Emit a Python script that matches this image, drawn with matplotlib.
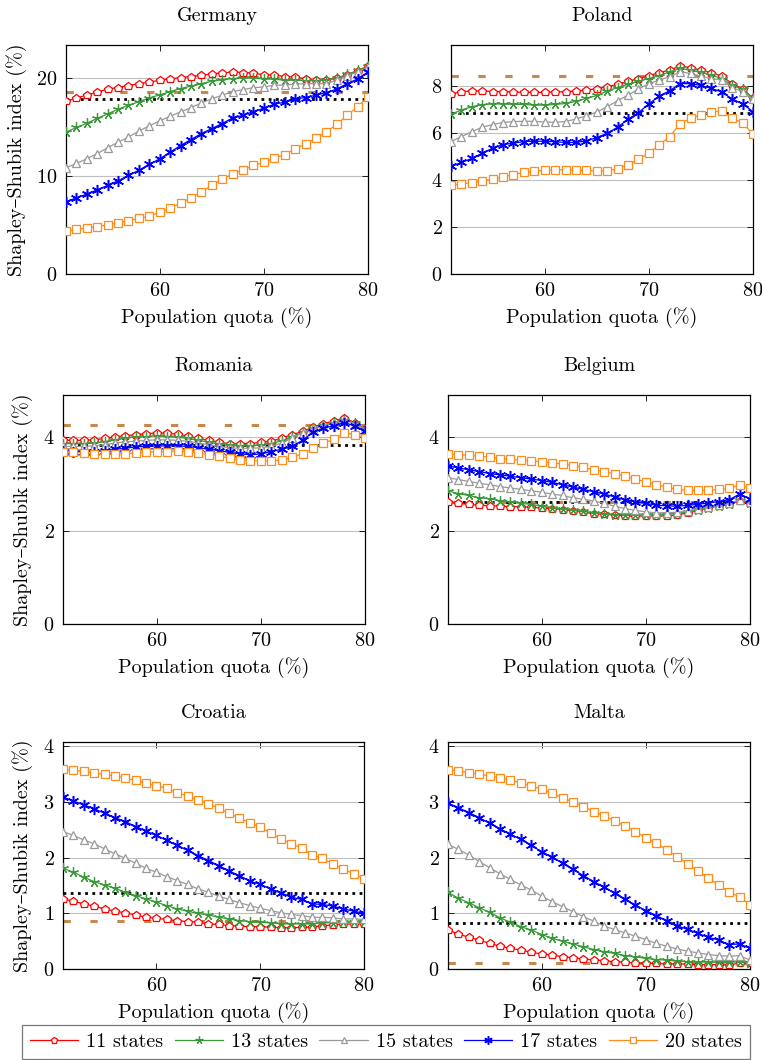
import numpy as np
import matplotlib
matplotlib.use("Agg")
import matplotlib.pyplot as plt

plt.rcParams['font.family'] = ['cmr10', 'DejaVu Serif']
plt.rcParams['mathtext.fontset'] = 'cm'
plt.rcParams['axes.formatter.use_mathtext'] = True

quota = np.arange(51, 81)
labels = ["11 states", "13 states", "15 states", "17 states", "20 states"]

# Germany
de_11 = [17.65, 18.0, 18.27, 18.6, 18.9, 19.05, 19.25, 19.45, 19.6, 19.8, 19.93, 20.07, 20.17, 20.3, 20.44,
         20.54, 20.65, 20.58, 20.54, 20.34, 20.34, 20.17, 20.1, 19.97, 19.83, 19.83, 20.0, 20.34, 20.7, 21.26]
de_13 = [14.5, 14.97, 15.4, 15.9, 16.36, 16.84, 17.24, 17.6, 18.0, 18.3, 18.64, 18.95, 19.2, 19.45, 19.7,
         19.86, 19.97, 20.03, 20.03, 19.93, 19.9, 19.8, 19.8, 19.76, 19.76, 19.8, 20.0, 20.4, 20.8, 21.26]
de_15 = [10.85, 11.3, 11.77, 12.3, 12.9, 13.47, 14.0, 14.6, 15.14, 15.65, 16.12, 16.56, 17.0, 17.48, 17.9,
         18.27, 18.64, 18.84, 19.05, 19.1, 19.3, 19.3, 19.4, 19.45, 19.45, 19.45, 19.8, 20.27, 20.65, 21.15]
de_17 = [7.38, 7.79, 8.16, 8.6, 9.05, 9.52, 10.07, 10.6, 11.2, 11.77, 12.45, 13.13, 13.74, 14.35, 14.86,
         15.37, 15.95, 16.22, 16.6, 16.94, 17.35, 17.55, 17.9, 18.03, 18.27, 18.54, 18.9, 19.45, 19.93, 20.65]
de_20 = [4.42, 4.56, 4.7, 4.83, 5.03, 5.24, 5.44, 5.68, 5.92, 6.3, 6.73, 7.24, 7.79, 8.4, 9.05,
         9.66, 10.24, 10.6, 11.12, 11.4, 11.84, 12.2, 12.8, 13.27, 13.88, 14.5, 15.3, 16.22, 17.07, 18.1]

# Poland
pl_11 = [7.66, 7.76, 7.79, 7.79, 7.77, 7.76, 7.75, 7.73, 7.73, 7.73, 7.75, 7.76, 7.79, 7.83, 7.89,
         7.97, 8.08, 8.2, 8.32, 8.45, 8.57, 8.68, 8.86, 8.78, 8.68, 8.57, 8.42, 8.11, 7.89, 7.48]
pl_13 = [6.81, 6.98, 7.12, 7.21, 7.24, 7.24, 7.22, 7.22, 7.19, 7.19, 7.22, 7.26, 7.35, 7.48, 7.6,
         7.79, 7.94, 8.08, 8.21, 8.32, 8.45, 8.61, 8.75, 8.68, 8.58, 8.47, 8.32, 8.04, 7.86, 7.48]
pl_15 = [5.64, 5.85, 6.06, 6.25, 6.36, 6.45, 6.49, 6.5, 6.5, 6.47, 6.46, 6.49, 6.6, 6.73, 6.9,
         7.12, 7.38, 7.62, 7.87, 8.11, 8.25, 8.4, 8.61, 8.54, 8.42, 8.32, 8.25, 7.94, 7.76, 7.43]
pl_17 = [4.58, 4.75, 4.92, 5.14, 5.36, 5.51, 5.57, 5.64, 5.65, 5.65, 5.63, 5.6, 5.6, 5.67, 5.81,
         5.99, 6.25, 6.59, 6.87, 7.24, 7.58, 7.8, 8.11, 8.1, 8.03, 7.9, 7.75, 7.45, 7.25, 6.91]
pl_20 = [3.79, 3.83, 3.89, 3.96, 4.04, 4.13, 4.23, 4.33, 4.38, 4.42, 4.44, 4.44, 4.42, 4.41, 4.38,
         4.4, 4.47, 4.66, 4.89, 5.14, 5.5, 5.85, 6.39, 6.63, 6.77, 6.9, 6.93, 6.64, 6.42, 5.96]

# Romania
ro_11 = [3.93, 3.93, 3.93, 3.94, 3.97, 4.0, 4.03, 4.05, 4.07, 4.09, 4.08, 4.06, 4.02, 3.97, 3.93,
         3.89, 3.86, 3.86, 3.86, 3.89, 3.91, 3.98, 4.05, 4.12, 4.21, 4.29, 4.34, 4.41, 4.31, 4.17]
ro_13 = [3.86, 3.86, 3.86, 3.87, 3.9, 3.94, 3.98, 4.0, 4.01, 4.03, 4.01, 4.0, 3.97, 3.93, 3.89,
         3.85, 3.82, 3.81, 3.81, 3.83, 3.86, 3.92, 4.0, 4.1, 4.19, 4.26, 4.31, 4.37, 4.3, 4.16]
ro_15 = [3.8, 3.8, 3.8, 3.81, 3.84, 3.87, 3.9, 3.91, 3.93, 3.94, 3.94, 3.93, 3.91, 3.87, 3.84,
         3.8, 3.77, 3.76, 3.76, 3.77, 3.8, 3.87, 3.98, 4.09, 4.19, 4.26, 4.31, 4.36, 4.29, 4.16]
ro_17 = [3.71, 3.69, 3.69, 3.69, 3.71, 3.74, 3.76, 3.79, 3.8, 3.81, 3.81, 3.81, 3.8, 3.77, 3.74,
         3.71, 3.67, 3.64, 3.62, 3.64, 3.69, 3.74, 3.8, 3.93, 4.1, 4.19, 4.24, 4.31, 4.24, 4.12]
ro_20 = [3.69, 3.67, 3.66, 3.64, 3.63, 3.63, 3.64, 3.66, 3.68, 3.69, 3.69, 3.7, 3.69, 3.66, 3.62,
         3.59, 3.55, 3.51, 3.49, 3.49, 3.49, 3.51, 3.57, 3.64, 3.76, 3.87, 3.95, 4.09, 4.05, 3.98]

# Belgium
be_11 = [2.61, 2.58, 2.56, 2.54, 2.53, 2.52, 2.51, 2.51, 2.5, 2.48, 2.47, 2.45, 2.42, 2.39, 2.36,
         2.35, 2.33, 2.31, 2.31, 2.31, 2.31, 2.31, 2.33, 2.38, 2.43, 2.48, 2.53, 2.56, 2.63, 2.59]
be_13 = [2.85, 2.79, 2.75, 2.7, 2.68, 2.64, 2.61, 2.58, 2.56, 2.52, 2.49, 2.46, 2.43, 2.41, 2.38,
         2.36, 2.34, 2.34, 2.33, 2.33, 2.33, 2.35, 2.36, 2.4, 2.45, 2.49, 2.53, 2.56, 2.65, 2.59]
be_15 = [3.13, 3.09, 3.05, 3.01, 2.98, 2.94, 2.91, 2.88, 2.85, 2.82, 2.78, 2.75, 2.7, 2.67, 2.63,
         2.58, 2.52, 2.47, 2.43, 2.4, 2.38, 2.38, 2.39, 2.42, 2.47, 2.51, 2.54, 2.58, 2.66, 2.61]
be_17 = [3.38, 3.34, 3.3, 3.26, 3.22, 3.19, 3.16, 3.13, 3.1, 3.07, 3.03, 2.98, 2.93, 2.88, 2.83,
         2.78, 2.72, 2.66, 2.62, 2.58, 2.54, 2.53, 2.52, 2.54, 2.56, 2.59, 2.62, 2.66, 2.78, 2.68]
be_20 = [3.64, 3.62, 3.61, 3.59, 3.57, 3.54, 3.52, 3.51, 3.49, 3.47, 3.45, 3.42, 3.39, 3.35, 3.3,
         3.26, 3.21, 3.16, 3.1, 3.04, 2.98, 2.93, 2.88, 2.86, 2.86, 2.86, 2.88, 2.9, 2.98, 2.9]

# Croatia
hr_11 = [1.26, 1.22, 1.17, 1.13, 1.08, 1.04, 1.01, 0.97, 0.93, 0.91, 0.89, 0.87, 0.85, 0.84, 0.81,
         0.8, 0.78, 0.77, 0.76, 0.76, 0.75, 0.74, 0.74, 0.75, 0.75, 0.78, 0.79, 0.81, 0.81, 0.81]
hr_13 = [1.81, 1.74, 1.65, 1.57, 1.51, 1.45, 1.38, 1.32, 1.26, 1.2, 1.14, 1.08, 1.04, 1.0, 0.97,
         0.93, 0.9, 0.87, 0.85, 0.84, 0.83, 0.81, 0.81, 0.81, 0.81, 0.83, 0.83, 0.84, 0.84, 0.84]
hr_15 = [2.47, 2.4, 2.32, 2.25, 2.16, 2.07, 1.99, 1.9, 1.81, 1.74, 1.66, 1.59, 1.52, 1.44, 1.38,
         1.31, 1.25, 1.19, 1.14, 1.09, 1.05, 1.01, 0.98, 0.96, 0.93, 0.93, 0.92, 0.9, 0.9, 0.89]
hr_17 = [3.09, 3.02, 2.95, 2.88, 2.8, 2.72, 2.65, 2.56, 2.48, 2.4, 2.31, 2.22, 2.13, 2.04, 1.95,
         1.86, 1.76, 1.68, 1.58, 1.52, 1.44, 1.37, 1.29, 1.25, 1.17, 1.16, 1.13, 1.08, 1.04, 1.0]
hr_20 = [3.59, 3.57, 3.55, 3.52, 3.5, 3.47, 3.43, 3.39, 3.34, 3.29, 3.25, 3.17, 3.11, 3.04, 2.97,
         2.89, 2.8, 2.71, 2.63, 2.55, 2.44, 2.34, 2.25, 2.17, 2.05, 1.99, 1.89, 1.8, 1.71, 1.62]

# Malta
mt_11 = [0.7, 0.63, 0.57, 0.52, 0.46, 0.41, 0.37, 0.34, 0.3, 0.27, 0.25, 0.22, 0.2, 0.18, 0.16,
         0.15, 0.13, 0.12, 0.11, 0.1, 0.1, 0.09, 0.09, 0.09, 0.08, 0.08, 0.08, 0.07, 0.11, 0.1]
mt_13 = [1.38, 1.27, 1.19, 1.1, 1.02, 0.92, 0.84, 0.76, 0.7, 0.62, 0.55, 0.5, 0.45, 0.4, 0.35,
         0.31, 0.28, 0.24, 0.22, 0.19, 0.17, 0.16, 0.14, 0.13, 0.13, 0.12, 0.12, 0.12, 0.13, 0.11]
mt_15 = [2.24, 2.15, 2.05, 1.93, 1.82, 1.71, 1.61, 1.51, 1.42, 1.31, 1.21, 1.12, 1.03, 0.94, 0.86,
         0.77, 0.71, 0.65, 0.59, 0.53, 0.46, 0.41, 0.36, 0.32, 0.29, 0.26, 0.24, 0.23, 0.24, 0.16]
mt_17 = [2.98, 2.9, 2.81, 2.72, 2.62, 2.52, 2.42, 2.33, 2.22, 2.11, 2.01, 1.9, 1.79, 1.68, 1.57,
         1.47, 1.36, 1.25, 1.15, 1.05, 0.96, 0.87, 0.78, 0.71, 0.64, 0.57, 0.52, 0.44, 0.45, 0.37]
mt_20 = [3.58, 3.56, 3.53, 3.5, 3.47, 3.44, 3.39, 3.35, 3.29, 3.23, 3.16, 3.08, 3.0, 2.92, 2.83,
         2.75, 2.66, 2.57, 2.47, 2.36, 2.26, 2.14, 2.02, 1.89, 1.76, 1.64, 1.51, 1.38, 1.3, 1.15]

countries = ["Germany", "Poland", "Romania", "Belgium", "Croatia", "Malta"]
series = [[de_11, de_13, de_15, de_17, de_20],
          [pl_11, pl_13, pl_15, pl_17, pl_20],
          [ro_11, ro_13, ro_15, ro_17, ro_20],
          [be_11, be_13, be_15, be_17, be_20],
          [hr_11, hr_13, hr_15, hr_17, hr_20],
          [mt_11, mt_13, mt_15, mt_17, mt_20]]
dashed_ref = [18.57, 8.42, 4.26, 2.61, 0.86, 0.11]
dotted_ref = [17.9, 6.84, 3.83, 2.61, 1.37, 0.83]
ymax = [23.4, 9.75, 4.9, 4.9, 4.08, 4.08]
yticks = [[0, 10, 20], [0, 2, 4, 6, 8], [0, 2, 4], [0, 2, 4], [0, 1, 2, 3, 4], [0, 1, 2, 3, 4]]

colors = ["#ff0000", "#3a9a3a", "#999999", "#0000ff", "#ff8c1a"]
markers = ["p", (5, 2, 0), "^", (6, 2, 0), "s"]
msizes = [6.2, 7.5, 5.8, 8, 5.4]
mews = [0.9, 0.9, 0.9, 1.1, 0.9]
dash_col = "#c8884c"

W, H = 762, 1060
boxes = [(66, 45, 368, 274), (451, 45, 753, 274),
         (63, 395, 365, 624), (448, 395, 750, 624),
         (63, 742, 364, 969), (448, 742, 750, 969)]

fs = 14.5
fig = plt.figure(figsize=(W / 100, H / 100), dpi=100)
handles = []
for i, name in enumerate(countries):
    l, t, r, b = boxes[i]
    ax = fig.add_axes([l / W, 1 - b / H, (r - l) / W, (b - t) / H])
    ax.axhline(dashed_ref[i], color=dash_col, lw=2.2, ls=(0, (2.4, 6.4)), zorder=2)
    ax.axhline(dotted_ref[i], color="black", lw=2.0, ls=(0, (1, 1.6)), zorder=2)
    for k in range(5):
        filled = k in (1, 3)
        h, = ax.plot(quota, series[i][k], color=colors[k], lw=0.9, marker=markers[k],
                     markersize=msizes[k], markerfacecolor=colors[k] if filled else "white",
                     markeredgecolor=colors[k], markeredgewidth=mews[k], label=labels[k], zorder=3)
        if i == 0:
            handles.append(h)
    ax.set_xlim(51, 80)
    ax.set_ylim(0, ymax[i])
    ax.set_xticks([60, 70, 80])
    ax.set_yticks(yticks[i])
    ax.grid(axis="y", color="#bfbfbf", lw=0.8)
    ax.set_axisbelow(True)
    ax.tick_params(direction="in", top=True, right=True, labelsize=fs, length=4, width=0.6, pad=6)
    for s in ax.spines.values():
        s.set_linewidth(0.9)
    ax.set_title(name, fontsize=fs, pad=17)
    ax.set_xlabel("Population quota (%)", fontsize=fs, labelpad=5)
    if i % 2 == 0:
        ax.set_ylabel("Shapley–Shubik index (%)", fontsize=fs, labelpad=7)

leg = fig.legend(handles, labels, loc="lower left", ncol=5, mode="expand",
                 bbox_to_anchor=(22 / W, 1 / H, 728 / W, 38 / H), fontsize=fs,
                 frameon=True, fancybox=False, edgecolor="#555555", handlelength=2.4,
                 markerscale=0.75, borderaxespad=0, columnspacing=0.8, handletextpad=0.4)
leg.get_frame().set_linewidth(0.9)

fig.savefig("out.png", dpi=100)
